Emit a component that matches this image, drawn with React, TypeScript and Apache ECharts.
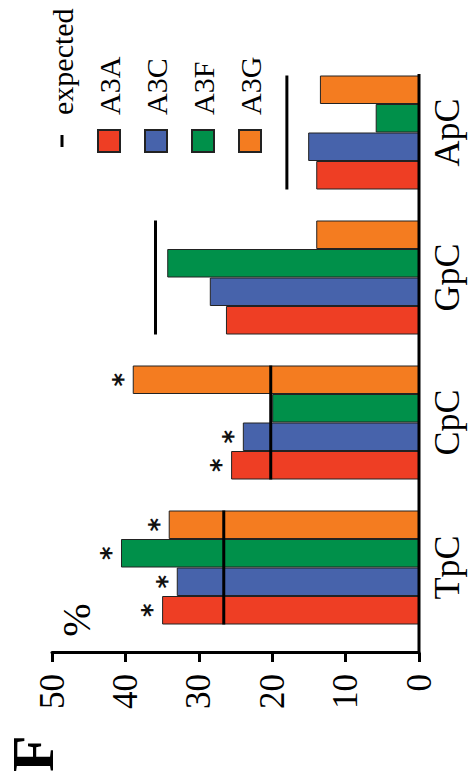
import React, { useEffect, useRef } from "react";
import * as echarts from "echarts";

// ---- data ----
const categories = ["TpC", "CpC", "GpC", "ApC"];
const seriesNames = ["A3A", "A3C", "A3F", "A3G"];
const a3aValues = [35.0, 25.6, 26.3, 14.0];
const a3cValues = [33.0, 24.0, 28.5, 15.1];
const a3fValues = [40.6, 20.0, 34.3, 5.9];
const a3gValues = [34.1, 39.0, 14.0, 13.5];
const expectedValues = [26.6, 20.2, 35.9, 18.0];
const a3aSig = [true, true, false, false];
const a3cSig = [true, true, false, false];
const a3fSig = [true, false, false, false];
const a3gSig = [true, true, false, false];
const valueMin = 0;
const valueMax = 50;
const valueStep = 10;

// ---- styles ----
const colors = ["#EE3E24", "#4763AB", "#00904A", "#F47C20"];
const W = 783;
const H = 471;
const GRID = { left: 143, right: 60, top: 52, bottom: 52 };
const BAR_W = 28.5;
const SERIF = "Liberation Serif";

export default function App() {
  const ref = useRef<HTMLDivElement>(null);

  useEffect(() => {
    if (!ref.current) return;
    const chart = echarts.init(ref.current, undefined, { renderer: "svg" });
    const valueSets = [a3aValues, a3cValues, a3fValues, a3gValues];
    const sigSets = [a3aSig, a3cSig, a3fSig, a3gSig];

    const barSeries = seriesNames.map((name, si) => ({
      name,
      type: "bar",
      data: valueSets[si],
      barWidth: BAR_W,
      barGap: "0%",
      itemStyle: { color: colors[si], borderColor: "#222", borderWidth: 1 },
      label: {
        show: true,
        position: "top",
        distance: -3,
        formatter: (p: any) => (sigSets[si][p.dataIndex] ? "*" : ""),
        fontFamily: "DejaVu Sans",
        fontWeight: "bold",
        fontSize: 26,
        color: "#111",
      },
      z: 2,
    }));

    const axisY = H - GRID.bottom;
    const axisX0 = GRID.left - 13;
    const axisX1 = W - GRID.right - 14;

    chart.setOption({
      animation: false,
      backgroundColor: "#fff",
      grid: { ...GRID, containLabel: false },
      legend: {
        orient: "vertical",
        left: 625,
        top: 42,
        itemWidth: 22,
        itemHeight: 22,
        itemGap: 17,
        selectedMode: false,
        textStyle: {
          fontFamily: SERIF,
          fontSize: 30,
          color: "#000",
          padding: [0, 0, 0, 10],
        },
        data: [
          {
            name: "expected",
            icon:
              "path://M0,0L0.01,0L0.01,0.01Z M22,22L21.99,22L21.99,21.99Z M5,9.5H17V12.5H5Z",
          },
          ...seriesNames.map((n) => ({ name: n, icon: "rect" })),
        ],
      },
      xAxis: {
        type: "category",
        data: categories,
        axisLine: { show: false },
        axisTick: { show: false },
        axisLabel: {
          fontFamily: SERIF,
          fontSize: 36,
          color: "#000",
          margin: 10,
        },
      },
      yAxis: {
        type: "value",
        min: valueMin,
        max: valueMax,
        interval: valueStep,
        offset: 13,
        axisLine: { show: true, lineStyle: { color: "#000", width: 3 } },
        axisTick: {
          show: true,
          length: 9,
          lineStyle: { color: "#000", width: 3 },
        },
        axisLabel: {
          fontFamily: SERIF,
          fontSize: 35,
          color: "#000",
          margin: 21,
        },
        splitLine: { show: false },
      },
      graphic: [
        {
          type: "line",
          shape: { x1: axisX0, y1: axisY, x2: axisX1, y2: axisY },
          style: { stroke: "#000", lineWidth: 3 },
          z: 10,
        },
        {
          type: "text",
          x: 163,
          y: 76,
          style: {
            text: "%",
            font: `40px "${SERIF}"`,
            fill: "#000",
            align: "center",
            verticalAlign: "middle",
          },
        },
        {
          type: "text",
          x: 11,
          y: 33,
          style: {
            text: "F",
            font: `bold 60px "${SERIF}"`,
            fill: "#000",
            align: "left",
            verticalAlign: "middle",
          },
        },
      ],
      series: [
        ...barSeries,
        {
          name: "expected",
          type: "custom",
          itemStyle: { color: "#000" },
          data: expectedValues.map((v, i) => [i, v]),
          encode: { x: 0, y: 1 },
          z: 5,
          renderItem: (params: any, api: any) => {
            const pt = api.coord([api.value(0), api.value(1)]);
            const half = BAR_W * 2;
            return {
              type: "line",
              shape: { x1: pt[0] - half, y1: pt[1], x2: pt[0] + half, y2: pt[1] },
              style: { stroke: "#000", lineWidth: 3 },
            };
          },
        },
      ],
    });

    return () => chart.dispose();
  }, []);

  return (
    <div
      style={{
        position: "fixed",
        left: 0,
        top: 0,
        width: H,
        height: W,
        overflow: "hidden",
        background: "#fff",
      }}
    >
      <div
        style={{
          position: "absolute",
          left: 0,
          top: 0,
          width: W,
          height: H,
          transformOrigin: "0 0",
          transform: `rotate(-90deg) translateX(-${W}px)`,
        }}
      >
        <div ref={ref} style={{ width: W, height: H }} />
      </div>
    </div>
  );
}
